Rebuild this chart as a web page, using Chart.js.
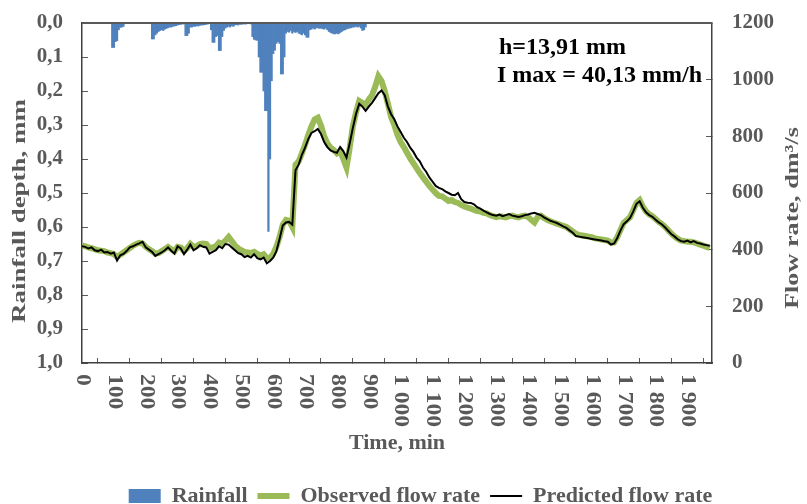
<!DOCTYPE html>
<html>
<head>
<meta charset="utf-8">
<script src="https://cdn.jsdelivr.net/npm/chart.js@4.4.0/dist/chart.umd.min.js"></script>
<style>
  html, body { margin: 0; padding: 0; background: #fff; }
  #wrap { width: 807px; height: 504px; }
</style>
</head>
<body>
<div id="wrap"><canvas id="chart"></canvas></div>
<script>
// rainfall depth per 5 min step, mm (steps start at 95 min)
var rainStart = 95;
var rainStep = 5;
var rainfall = [
  0.072, 0.072, 0.055, 0.052, 0.02, 0.013, 0.012, 0.01, 0, 0,
  0, 0, 0, 0, 0, 0, 0, 0, 0, 0,
  0, 0, 0, 0, 0, 0.047, 0.047, 0.035, 0.03, 0.025,
  0.022, 0.02, 0.022, 0.018, 0.016, 0.014, 0.012, 0.012, 0.01, 0.009,
  0.008, 0.006, 0.005, 0.004, 0.003, 0.003, 0.037, 0.037, 0.03, 0.012,
  0.012, 0.01, 0.01, 0.008, 0.009, 0.007, 0.006, 0.006, 0.005, 0.004,
  0.003, 0.002, 0.02, 0.057, 0.057, 0.04, 0.037, 0.081, 0.081, 0.04,
  0.022, 0.015, 0.012, 0.01, 0.012, 0.008, 0.01, 0.006, 0.005, 0.006,
  0.004, 0.004, 0.003, 0.003, 0.003, 0.002, 0.002, 0.003, 0.04, 0.048,
  0.05, 0.051, 0.1, 0.145, 0.145, 0.2, 0.258, 0.258, 0.613, 0.4,
  0.17, 0.09, 0.08, 0.06, 0.055, 0.06, 0.15, 0.15, 0.1, 0.03,
  0.025, 0.027, 0.022, 0.03, 0.025, 0.028, 0.025, 0.03, 0.032, 0.035,
  0.03, 0.035, 0.042, 0.042, 0.02, 0.018, 0.015, 0.018, 0.015, 0.014,
  0.016, 0.015, 0.017, 0.018, 0.015, 0.02, 0.025, 0.028, 0.03, 0.032,
  0.032, 0.03, 0.032, 0.028, 0.025, 0.022, 0.02, 0.018, 0.016, 0.015,
  0.014, 0.012, 0.012, 0.01, 0.012, 0.01, 0.015, 0.022, 0.02, 0.012
];

// flow rate every 10 min, dm3/s
var flowStep = 10;
var observed = [
  415, 412, 408, 405, 402, 398, 396, 395, 390, 388,
  384, 375, 382, 390, 398, 406, 414, 420, 424, 422,
  410, 402, 395, 386, 388, 395, 402, 410, 402, 394,
  410, 408, 395, 405, 420, 410, 412, 420, 422, 420,
  405, 408, 412, 425, 420, 432, 445, 430, 415, 405,
  398, 392, 390, 388, 392, 385, 380, 384, 370, 372,
  385, 410, 445, 488, 505, 502, 480, 700, 712, 740,
  770, 805, 835, 860, 866, 838, 800, 775, 760, 752,
  740, 748, 720, 690, 760, 835, 885, 925, 918, 910,
  930, 945, 975, 1012, 995, 960, 915, 868, 840, 805,
  780, 762, 742, 722, 705, 688, 670, 655, 640, 625,
  612, 600, 590, 588, 580, 572, 575, 568, 565, 558,
  552, 548, 545, 540, 536, 535, 530, 528, 522, 518,
  515, 518, 516, 514, 518, 520, 516, 514, 518, 520,
  515, 505, 496, 515, 520, 512, 505, 500, 496, 492,
  488, 484, 480, 472, 464, 456, 452, 450, 448, 446,
  444, 440, 438, 436, 434, 432, 425, 426, 445, 470,
  495, 505, 515, 540, 565, 575, 552, 535, 525, 518,
  508, 498, 490, 480, 468, 456, 446, 438, 432, 430,
  428, 428, 426, 422, 418, 414, 410, 406
];
var predicted = [
  412, 410, 404, 408, 398, 395, 400, 390, 392, 386,
  390, 362, 380, 385, 395, 408, 412, 418, 422, 428,
  408, 400, 392, 378, 384, 390, 398, 408, 396, 386,
  412, 404, 384, 400, 418, 398, 405, 416, 410, 408,
  386, 392, 398, 412, 405, 420, 418, 408, 398, 388,
  384, 374, 378, 372, 384, 370, 366, 372, 352, 360,
  372, 395, 438, 485, 496, 498, 488, 680, 700, 735,
  760, 790, 812, 818, 826, 808, 780, 762, 750, 745,
  742, 762, 748, 725, 775, 830, 880, 915, 905, 890,
  905, 918, 935, 952, 962, 945, 905, 878, 860, 835,
  815, 795, 780, 760, 745, 725, 712, 690, 675, 655,
  640, 625, 618, 614, 606, 600, 594, 592, 600, 578,
  568, 566, 565, 560, 550, 545, 538, 532, 526, 522,
  520, 524, 518, 522, 526, 520, 518, 515, 518, 522,
  524, 528, 530, 526, 522, 514, 508, 502, 498, 494,
  488, 482, 477, 468, 460, 448, 446, 444, 442, 440,
  438, 436, 434, 432, 430, 428, 418, 422, 442, 468,
  490, 500, 512, 535, 562, 571, 548, 532, 522, 516,
  506, 496, 489, 478, 466, 454, 446, 436, 430, 428,
  432, 426, 430, 424, 422, 418, 416, 414
];

var notes = ["h=13,91 mm", "I max = 40,13 mm/h"];

var GREY = "#595959";
var SERIF = '"Liberation Serif", "Times New Roman", serif';

function thousands(v) {
  return String(v).replace(/\B(?=(\d{3})+(?!\d))/g, " ");
}

var rainPoints = rainfall.map(function (v, i) {
  return { x: rainStart + i * rainStep, y: v };
});
var obsPoints = observed.map(function (v, i) {
  return { x: i * flowStep, y: v };
});
var predPoints = predicted.map(function (v, i) {
  return { x: i * flowStep, y: v };
});

function upText(ctx, text, cx, cy, stretch) {
  ctx.save();
  ctx.translate(cx, cy);
  ctx.rotate(-Math.PI / 2);
  ctx.scale(stretch, 1);
  ctx.textAlign = "center";
  ctx.textBaseline = "middle";
  ctx.fillText(text, 0, 0);
  ctx.restore();
}

// keep the tick padding from pushing the plot area down
function fixWidth(w) {
  return function (s) {
    s.width = w;
    s.paddingTop = 12;
    s.paddingBottom = 12;
  };
}

var decor = {
  id: "decor",
  afterDraw: function (chart) {
    var ctx = chart.ctx;
    var a = chart.chartArea;
    var x = chart.scales.x;
    ctx.save();
    // top frame line
    ctx.strokeStyle = GREY;
    ctx.lineWidth = 2;
    ctx.beginPath();
    ctx.moveTo(a.left, a.top);
    ctx.lineTo(a.right, a.top);
    ctx.stroke();

    // x tick labels, turned clockwise
    ctx.fillStyle = GREY;
    ctx.font = "bold 20px " + SERIF;
    x.ticks.forEach(function (t) {
      var px = x.getPixelForValue(t.value);
      ctx.save();
      ctx.translate(px, x.top + 11);
      ctx.rotate(Math.PI / 2);
      ctx.scale(1.18, 1);
      ctx.textAlign = "left";
      ctx.textBaseline = "middle";
      ctx.fillText(thousands(t.value), 0, 0);
      ctx.restore();
    });

    // axis titles
    ctx.font = "bold 19px " + SERIF;
    upText(ctx, "Rainfall depth, mm", 20, 211, 1.42);
    upText(ctx, "Flow rate, dm\u00b3/s", 793, 218, 1.38);

    // storm notes
    ctx.fillStyle = "#000";
    ctx.font = "bold 24px " + SERIF;
    ctx.textAlign = "left";
    ctx.textBaseline = "middle";
    ctx.fillText(notes[0], 499, 48);
    ctx.fillText(notes[1], 497, 76);
    ctx.restore();
  }
};

new Chart(document.getElementById("chart"), {
  type: "line",
  data: {
    datasets: [
      {
        type: "bar",
        label: "Rainfall",
        data: rainPoints,
        yAxisID: "y",
        backgroundColor: "#4F81BD",
        borderWidth: 0,
        barPercentage: 1,
        categoryPercentage: 1,
        pointStyle: "rect",
        order: 2
      },
      {
        label: "Observed flow rate",
        data: obsPoints,
        yAxisID: "y1",
        borderColor: "#9BBB59",
        backgroundColor: "#9BBB59",
        borderWidth: 6,
        pointRadius: 0,
        pointStyle: "line",
        tension: 0,
        order: 1
      },
      {
        label: "Predicted flow rate",
        data: predPoints,
        yAxisID: "y1",
        borderColor: "#000000",
        backgroundColor: "#000000",
        borderWidth: 2,
        pointRadius: 0,
        pointStyle: "line",
        tension: 0,
        order: 0
      }
    ]
  },
  options: {
    responsive: true,
    maintainAspectRatio: false,
    animation: false,
    layout: { padding: { top: 23, bottom: -13, left: 34, right: 0 } },
    plugins: {
      tooltip: { enabled: false },
      legend: {
        position: "bottom",
        labels: {
          usePointStyle: true,
          pointStyleWidth: 32,
          boxHeight: 14,
          padding: 10,
          color: GREY,
          font: { family: SERIF, size: 22, weight: "bold" },
          sort: function (a, b) { return a.datasetIndex - b.datasetIndex; }
        }
      }
    },
    scales: {
      x: {
        type: "linear",
        min: 0,
        max: 1977,
        offset: false,
        ticks: {
          stepSize: 100,
          includeBounds: false,
          autoSkip: false,
          minRotation: 90,
          maxRotation: 90,
          color: "rgba(0,0,0,0)",
          font: { family: SERIF, size: 20, weight: "bold" },
          callback: function (v) { return thousands(v); }
        },
        grid: { drawOnChartArea: false, tickLength: -5, color: GREY },
        border: { color: "#404040", width: 1.5 },
        title: {
          display: true,
          text: "Time, min",
          color: GREY,
          font: { family: SERIF, size: 22, weight: "bold" },
          padding: { top: 0, bottom: 18 }
        },
        afterFit: function (s) { s.height = 112; }
      },
      y: {
        position: "left",
        min: 0,
        max: 1,
        reverse: true,
        ticks: {
          stepSize: 0.1,
          padding: 25,
          color: GREY,
          font: { family: SERIF, size: 21, weight: "bold" },
          callback: function (v) { return v.toFixed(1).replace(".", ","); }
        },
        grid: { drawOnChartArea: false, tickLength: -6, color: GREY },
        border: { color: "#404040", width: 1.5 },
        afterFit: fixWidth(48)
      },
      y1: {
        position: "right",
        min: 0,
        max: 1200,
        ticks: {
          stepSize: 200,
          padding: 26,
          color: GREY,
          font: { family: SERIF, size: 21, weight: "bold" },
          callback: function (v) { return String(v); }
        },
        grid: { drawOnChartArea: false, tickLength: -6, color: GREY },
        border: { color: "#404040", width: 1.5 },
        afterFit: fixWidth(95)
      }
    }
  },
  plugins: [decor]
});
</script>
</body>
</html>
